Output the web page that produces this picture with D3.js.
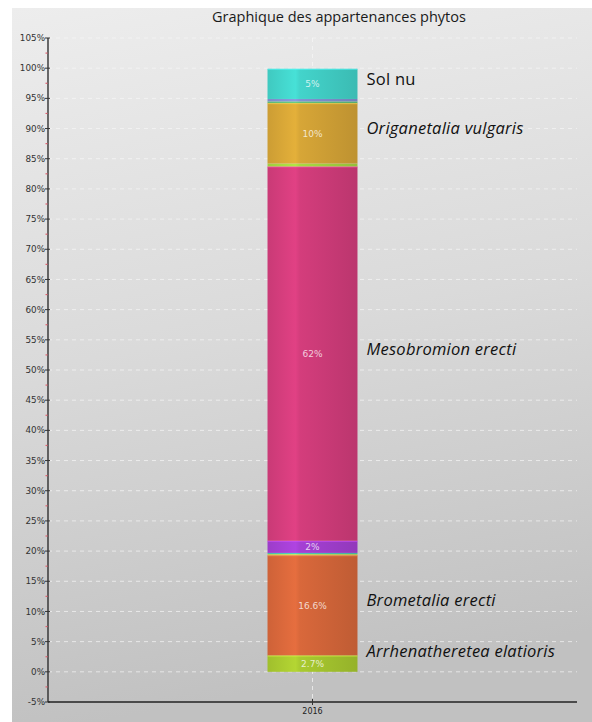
<!DOCTYPE html>
<html>
<head>
<meta charset="utf-8">
<script src="https://cdn.jsdelivr.net/npm/d3@7"></script>
<style>
  html, body { margin: 0; padding: 0; background: #ffffff; }
  svg { display: block; }
</style>
</head>
<body>
<svg id="chart" width="592" height="722"></svg>
<script>
// Stacked shares of the phytosociological groups for one survey year
const categories = ["2016"];
const groups = [
  "Arrhenatheretea elatioris",
  "Brometalia erecti",
  "groupe a",
  "groupe b",
  "groupe c",
  "Mesobromion erecti",
  "groupe d",
  "Origanetalia vulgaris",
  "groupe e",
  "groupe f",
  "Sol nu"
];
const shares2016 = [2.7, 16.6, 0.2, 0.2, 2, 62, 0.5, 10, 0.3, 0.4, 5];
const sideLabels = [
  "Arrhenatheretea elatioris", "Brometalia erecti", "", "", "",
  "Mesobromion erecti", "", "Origanetalia vulgaris", "", "", "Sol nu"
];
const italicLabels = [true, true, false, false, false, true, false, true, false, false, false];
const groupColors = [
  "#a6c62f", "#d5663a", "#c9d84c", "#4cc3b3", "#a23fd0",
  "#d03c7a", "#a4d640", "#d3a336", "#5fbf7a", "#7f8fcf", "#42d0c7"
];
const yTicks = [-5, 0, 5, 10, 15, 20, 25, 30, 35, 40, 45, 50, 55, 60, 65, 70, 75, 80, 85, 90, 95, 100, 105];
const yMinor = [-2.5, 2.5, 7.5, 12.5, 17.5, 22.5, 27.5, 32.5, 37.5, 42.5, 47.5, 52.5, 57.5, 62.5, 67.5, 72.5, 77.5, 82.5, 87.5, 92.5, 97.5, 102.5];
const chartTitle = "Graphique des appartenances phytos";

const svg = d3.select("#chart");
const W = 592, H = 722;
const plot = { left: 48, right: 577, top: 38, bottom: 702 };

const defs = svg.append("defs");

// panel background
const bg = defs.append("linearGradient").attr("id", "bgGrad")
  .attr("x1", 0).attr("y1", 0).attr("x2", 0.15).attr("y2", 1);
bg.append("stop").attr("offset", 0).attr("stop-color", "#ededed");
bg.append("stop").attr("offset", 0.5).attr("stop-color", "#dadada");
bg.append("stop").attr("offset", 1).attr("stop-color", "#c1c1c1");
svg.append("rect").attr("x", 12).attr("y", 8)
  .attr("width", W - 12).attr("height", H - 8)
  .attr("fill", "url(#bgGrad)");

const y = d3.scaleLinear().domain([-5, 105]).range([plot.bottom, plot.top]);
const x = d3.scaleBand().domain(categories)
  .range([plot.left, plot.right]).paddingInner(0).paddingOuter(2.44);

// horizontal dashed grid
svg.append("g").selectAll("line").data(yTicks.filter(d => d > -5)).join("line")
  .attr("x1", plot.left).attr("x2", plot.right)
  .attr("y1", d => y(d)).attr("y2", d => y(d))
  .attr("stroke", "#f6f6f6").attr("stroke-opacity", 0.7)
  .attr("stroke-width", 1).attr("stroke-dasharray", "4,4");

// vertical dashed grid at the category
svg.append("line")
  .attr("x1", x("2016") + x.bandwidth() / 2).attr("x2", x("2016") + x.bandwidth() / 2)
  .attr("y1", plot.top).attr("y2", plot.bottom)
  .attr("stroke", "#f6f6f6").attr("stroke-opacity", 0.7)
  .attr("stroke-dasharray", "4,4");

// stacked segments
const rows = [];
let acc = 0;
shares2016.forEach((v, i) => {
  rows.push({ i, name: groups[i], v, y0: acc, y1: acc + v, color: groupColors[i], label: sideLabels[i], italic: italicLabels[i] });
  acc += v;
});

rows.forEach(r => {
  const c = d3.color(r.color);
  const g = defs.append("linearGradient").attr("id", "seg" + r.i)
    .attr("x1", 0).attr("x2", 1).attr("y1", 0).attr("y2", 0);
  g.append("stop").attr("offset", 0).attr("stop-color", c.darker(0.1));
  g.append("stop").attr("offset", 0.31).attr("stop-color", c.brighter(0.22));
  g.append("stop").attr("offset", 0.36).attr("stop-color", c.brighter(0.05));
  g.append("stop").attr("offset", 1).attr("stop-color", c.darker(0.3));
});

const bars = svg.append("g");
bars.selectAll("rect.seg").data(rows).join("rect").attr("class", "seg")
  .attr("x", x("2016")).attr("width", x.bandwidth())
  .attr("y", d => y(d.y1)).attr("height", d => y(d.y0) - y(d.y1))
  .attr("fill", d => "url(#seg" + d.i + ")");

// light top edge on each segment
bars.selectAll("line.edge").data(rows.filter(d => d.v >= 1)).join("line").attr("class", "edge")
  .attr("x1", x("2016")).attr("x2", x("2016") + x.bandwidth())
  .attr("y1", d => y(d.y1) + 0.5).attr("y2", d => y(d.y1) + 0.5)
  .attr("stroke", d => d3.color(d.color).brighter(0.8))
  .attr("stroke-opacity", 0.6);

// value labels inside the bar
bars.selectAll("text.val").data(rows.filter(d => d.v >= 2)).join("text").attr("class", "val")
  .attr("x", x("2016") + x.bandwidth() / 2)
  .attr("y", d => y((d.y0 + d.y1) / 2))
  .attr("dy", "0.35em")
  .attr("text-anchor", "middle")
  .attr("font-family", "DejaVu Sans, sans-serif")
  .attr("font-size", 9)
  .attr("fill", "#ffffff").attr("fill-opacity", 0.75)
  .text(d => d.v + "%");

// group names to the right of the bar
svg.append("g").selectAll("text").data(rows.filter(d => d.label)).join("text")
  .attr("x", x("2016") + x.bandwidth() + 9)
  .attr("y", d => Math.min(y((d.y0 + d.y1) / 2) + 1, y(0) - 15))
  .attr("font-family", "Open Sans, sans-serif")
  .attr("font-size", 16.5)
  .attr("letter-spacing", 0.25)
  .attr("font-style", d => d.italic ? "italic" : "normal")
  .attr("fill", "#111")
  .text(d => d.label);

// y axis
const yAxis = svg.append("g");
yAxis.append("line").attr("x1", plot.left).attr("x2", plot.left)
  .attr("y1", plot.top).attr("y2", plot.bottom)
  .attr("stroke", "#222").attr("stroke-width", 1.3);
yAxis.selectAll("line.minor").data(yMinor).join("line").attr("class", "minor")
  .attr("x1", plot.left - 2.5).attr("x2", plot.left - 0.5)
  .attr("y1", d => y(d)).attr("y2", d => y(d))
  .attr("stroke", "#e0606e").attr("stroke-width", 1.2);
yAxis.selectAll("line.major").data(yTicks).join("line").attr("class", "major")
  .attr("x1", plot.left - 3).attr("x2", plot.left + 2)
  .attr("y1", d => y(d)).attr("y2", d => y(d))
  .attr("stroke", "#333").attr("stroke-width", 1);
yAxis.selectAll("text").data(yTicks).join("text")
  .attr("x", plot.left - 3).attr("y", d => y(d)).attr("dy", "0.35em")
  .attr("text-anchor", "end")
  .attr("font-family", "DejaVu Sans, sans-serif")
  .attr("font-size", 8.8)
  .attr("fill", "#333")
  .text(d => d + "%");

// x axis
const xAxis = svg.append("g");
xAxis.append("line").attr("x1", plot.left).attr("x2", plot.right)
  .attr("y1", plot.bottom).attr("y2", plot.bottom)
  .attr("stroke", "#222").attr("stroke-width", 1.3);
xAxis.selectAll("line.tick").data(categories).join("line").attr("class", "tick")
  .attr("x1", d => x(d) + x.bandwidth() / 2).attr("x2", d => x(d) + x.bandwidth() / 2)
  .attr("y1", plot.bottom - 3).attr("y2", plot.bottom + 3)
  .attr("stroke", "#333");
xAxis.selectAll("text").data(categories).join("text")
  .attr("x", d => x(d) + x.bandwidth() / 2).attr("y", plot.bottom + 12)
  .attr("text-anchor", "middle")
  .attr("font-family", "DejaVu Sans, sans-serif")
  .attr("font-size", 8)
  .attr("fill", "#222")
  .text(d => d);

// title
svg.append("text")
  .attr("x", 339).attr("y", 22)
  .attr("text-anchor", "middle")
  .attr("font-family", "Open Sans, sans-serif")
  .attr("font-size", 14.5)
  .attr("fill", "#1a1a1a")
  .text(chartTitle);
</script>
</body>
</html>
